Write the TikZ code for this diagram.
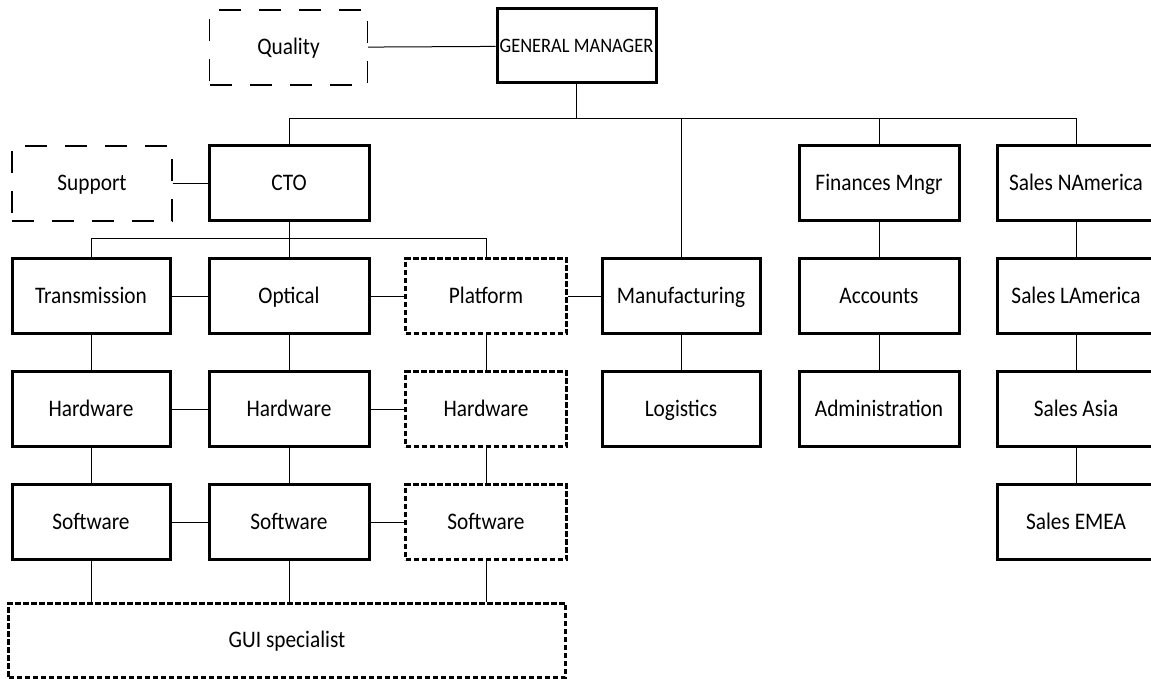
\documentclass[tikz,border=0pt]{standalone}
\usepackage{fontspec}
\setmainfont[FakeStretch=0.9]{Carlito}
\begin{document}
\begin{tikzpicture}[x=1pt,y=-1pt,
  box/.style={draw, line width=3pt, minimum width=158pt, minimum height=75pt,
    inner sep=0pt, text height=18pt, text depth=3pt,
    font=\fontsize{23.7}{27}\selectfont},
  dbox/.style={box, line width=3pt, dash pattern=on 5.5pt off 2.5pt},
  tbox/.style={box, line width=1.2pt, dash pattern=on 22pt off 18pt},
  link/.style={line width=1pt}]
\useasboundingbox (0,0) rectangle (1151,679);

% top level
\node[box, minimum width=159pt, minimum height=74pt, text height=16.5pt, text depth=3pt,
  font=\fontsize{20.5}{24}\selectfont] (gm) at (576.5,46) {GENERAL MANAGER};
\node[tbox] (quality) at (288.5,47.5) {Quality};

% second level
\node[tbox, minimum width=160pt] (support) at (92,183.5) {Support};
\node[box, minimum width=160pt] (cto) at (289,183.5) {CTO};
\node[box, minimum width=160pt] (fin) at (879,183.5) {Finances Mngr};
\node[box] (sna) at (1076,183.5) {Sales NAmerica};

% third level
\node[box] (trans) at (91,296) {Transmission};
\node[box, minimum width=160pt] (opt) at (289,296) {Optical};
\node[dbox, minimum width=161pt] (plat) at (486,296) {Platform};
\node[box] (man) at (681,296) {Manufacturing};
\node[box, minimum width=160pt] (acc) at (879,296) {Accounts};
\node[box] (sla) at (1076,296) {Sales LAmerica};

% fourth level
\node[box] (hwa) at (91,409) {Hardware};
\node[box, minimum width=160pt] (hwb) at (289,409) {Hardware};
\node[dbox, minimum width=161pt] (hwc) at (486,409) {Hardware};
\node[box] (log) at (681,409) {Logistics};
\node[box, minimum width=160pt] (adm) at (879,409) {Administration};
\node[box] (sas) at (1076,409) {Sales Asia};

% fifth level
\node[box] (swa) at (91,522) {Software};
\node[box, minimum width=160pt] (swb) at (289,522) {Software};
\node[dbox, minimum width=161pt] (swc) at (486,522) {Software};
\node[box] (sem) at (1076,522) {Sales EMEA};

% shared specialist
\node[dbox, minimum width=557pt, minimum height=74pt] (gui) at (287,640) {GUI specialist};

% bus lines
\coordinate (topbus) at (0,119);
\coordinate (ctobus) at (0,238);

\draw[link] (quality) -- (gm);
\draw[link] (gm.south) -- (gm.south |- topbus);
\draw[link] (cto.north) -- (cto.north |- topbus) -| (sna.north);
\draw[link] (man.north) -- (man.north |- topbus);
\draw[link] (fin.north) -- (fin.north |- topbus);

\draw[link] (support) -- (cto);
\draw[link] (trans.north) -- (trans.north |- ctobus) -| (plat.north);
\draw[link] (cto) -- (opt);

% horizontal links
\draw[link] (trans) -- (opt);
\draw[link] (opt) -- (plat);
\draw[link] (plat) -- (man);
\draw[link] (hwa) -- (hwb);
\draw[link] (hwb) -- (hwc);
\draw[link] (swa) -- (swb);
\draw[link] (swb) -- (swc);

% vertical chains
\draw[link] (trans) -- (hwa);
\draw[link] (hwa) -- (swa);
\draw[link] (opt) -- (hwb);
\draw[link] (hwb) -- (swb);
\draw[link] (plat) -- (hwc);
\draw[link] (hwc) -- (swc);
\draw[link] (man) -- (log);
\draw[link] (fin) -- (acc);
\draw[link] (acc) -- (adm);
\draw[link] (sna) -- (sla);
\draw[link] (sla) -- (sas);
\draw[link] (sas) -- (sem);
\draw[link] (swa.south) -- (swa.south |- gui.north);
\draw[link] (swb.south) -- (swb.south |- gui.north);
\draw[link] (swc.south) -- (swc.south |- gui.north);
\end{tikzpicture}
\end{document}
